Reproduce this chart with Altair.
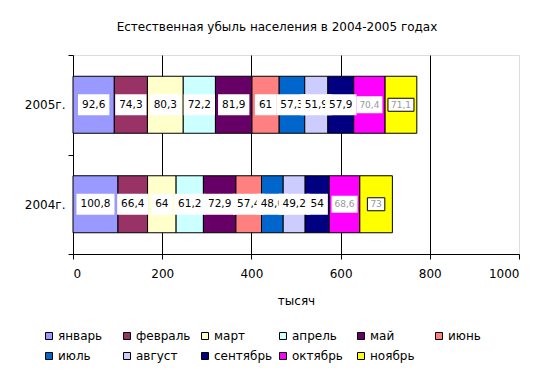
import altair as alt
import pandas as pd

months = ["январь", "февраль", "март", "апрель", "май", "июнь",
          "июль", "август", "сентябрь", "октябрь", "ноябрь"]
colors = ["#9999FF", "#993366", "#FFFFCC", "#CCFFFF", "#660066", "#FF8080",
          "#0066CC", "#CCCCFF", "#000080", "#FF00FF", "#FFFF00"]
years = ["2005г.", "2004г."]
v2005 = [92.6, 74.3, 80.3, 72.2, 81.9, 61, 57.3, 51.9, 57.9, 70.4, 71.1]
v2004 = [100.8, 66.4, 64, 61.2, 72.9, 57.4, 48.6, 49.2, 54, 68.6, 73]
x_ticks = [0, 200, 400, 600, 800, 1000]

W, H = 446, 199
PX = W / 1000.0  # pixels per data unit
FONT = "DejaVu Sans"

rows = []
for year, vals in zip(years, [v2005, v2004]):
    acc = 0.0
    for i, (m, v) in enumerate(zip(months, vals)):
        lab = ("%g" % v).replace(".", ",")
        small = i >= 9
        fs = 9 if small else 10.5
        tw = sum(0.636 * fs if ch.isdigit() else 0.318 * fs for ch in lab)
        bw = tw + (6 if small else 8)
        mid = acc + v / 2
        rows.append(dict(year=year, month=m, idx=i, value=v, start=acc,
                         end=acc + v, mid=mid, label=lab,
                         b0=mid - bw / 2 / PX, b1=mid + bw / 2 / PX))
        acc += v
df = pd.DataFrame(rows)

ysc = alt.Scale(domain=years, paddingInner=0, paddingOuter=0)
yenc = alt.Y("year:N", scale=ysc, title=None,
             axis=alt.Axis(tickBand="extent", domainColor="black",
                           tickColor="black", tickSize=5, labelPadding=3,
                           labelFontSize=12, labelColor="black",
                           labelFont=FONT, grid=False))
xsc = alt.Scale(domain=[0, 1000], nice=False)

base = alt.Chart(df)
bars = base.mark_bar(size=57, stroke="black", strokeWidth=1).encode(
    y=yenc,
    x=alt.X("start:Q", scale=xsc, title="тысяч",
            axis=alt.Axis(values=x_ticks, format="d", grid=True,
                          gridColor="black",
                          gridOpacity=alt.condition(
                              "datum.value === 0 || datum.value === 1000",
                              alt.value(0), alt.value(1)),
                          domainColor="black", tickColor="black", tickSize=5,
                          labelPadding=9, labelFontSize=12,
                          labelColor="black", labelFont=FONT,
                          titleFontSize=12, titleFontWeight="normal",
                          titleFont=FONT, titleColor="black",
                          titlePadding=16)),
    x2="end:Q",
    color=alt.Color("month:N", scale=alt.Scale(domain=months, range=colors),
                    legend=alt.Legend(
                        orient="none", legendX=-30, legendY=275,
                        direction="horizontal", columns=6, gridAlign="all",
                        title=None, symbolType="square", symbolSize=49,
                        symbolStrokeColor="black", symbolStrokeWidth=1,
                        symbolOpacity=1, labelFontSize=12, labelFont=FONT,
                        labelColor="black", labelOffset=3, columnPadding=4,
                        rowPadding=8, padding=0, labelLimit=200)),
)

layers = [bars]
for i, m in enumerate(months):
    small = i >= 9
    bh = 13 if i == 10 else (17 if i == 9 else 21)
    box = base.transform_filter(alt.datum.idx == i).mark_bar(
        size=bh, color="white",
        stroke="black" if i == 10 else "white",
        strokeWidth=1 if i == 10 else 0).encode(
        y=alt.Y("year:N", scale=ysc), x=alt.X("b0:Q", scale=xsc), x2="b1:Q")
    txt = base.transform_filter(alt.datum.idx == i).mark_text(
        font=FONT, fontSize=9 if small else 10.5,
        color="#999999" if small else "black",
        align="center", baseline="middle").encode(
        y=alt.Y("year:N", scale=ysc), x=alt.X("mid:Q", scale=xsc),
        text="label:N")
    layers += [box, txt]

chart = alt.layer(*layers).properties(
    width=W, height=H,
    autosize=alt.AutoSizeParams(type="none"),
    padding={"left": 65, "top": 47, "right": 27, "bottom": 112},
    title=alt.TitleParams("Естественная убыль населения в 2004-2005 годах",
                          fontSize=12, fontWeight="normal", font=FONT,
                          color="black", anchor="middle", dx=-19, offset=15),
).configure_view(fill="#EBEBEB", stroke="#808080", strokeWidth=1
).configure(background="white")

chart.save("out.html", embed_options={"renderer": "svg", "actions": False})
